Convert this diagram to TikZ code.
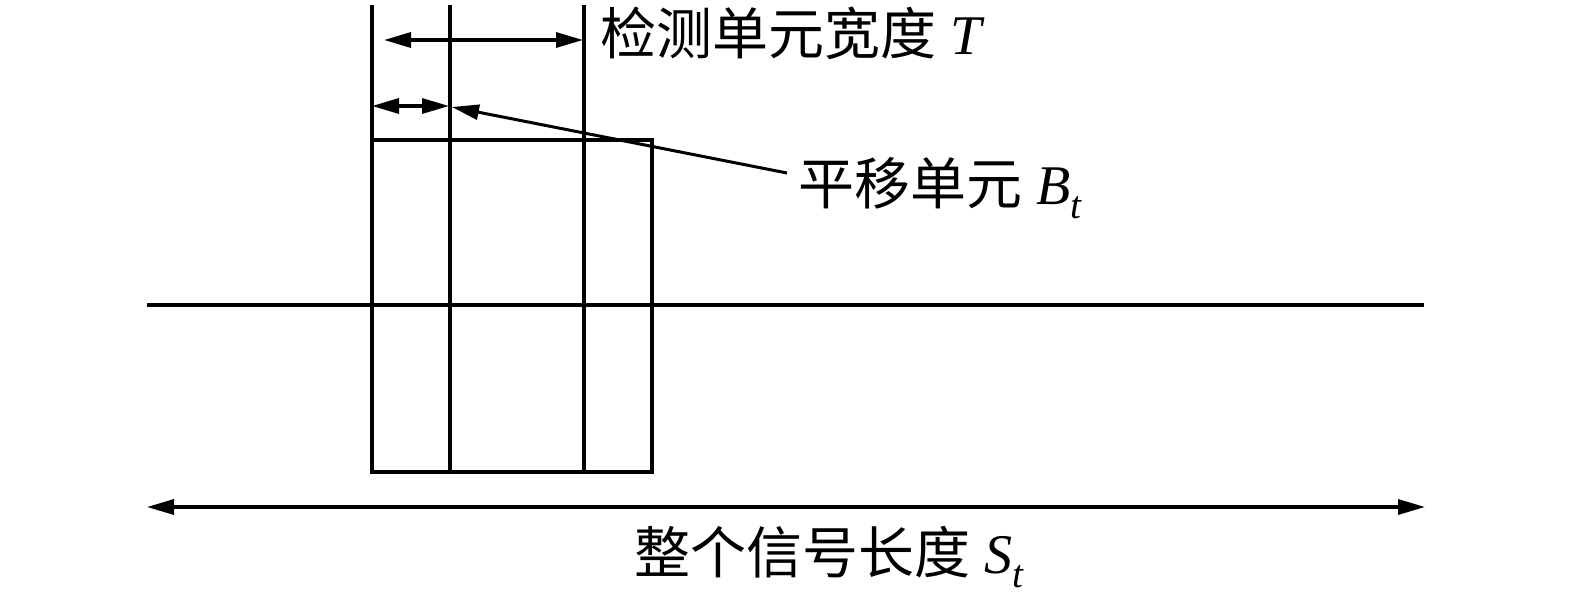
\documentclass[tikz,border=0pt]{standalone}
\usepackage{fontspec}
\setmainfont{Liberation Serif}
\newfontfamily\cjk{Noto Sans CJK SC}
\usetikzlibrary{arrows.meta}
\tikzset{
  ln/.style={line width=3.3pt, line cap=butt, line join=miter},
  dim/.style={line width=3.3pt, {Triangle[length=27pt,width=15pt]}-{Triangle[length=27pt,width=15pt]}},
  lead/.style={line width=3pt, -{Triangle[length=27pt,width=15pt]}},
  lbl/.style={font=\fontsize{56}{62}\selectfont, inner sep=0pt, anchor=west}
}
\begin{document}
\begin{tikzpicture}[x=1pt,y=-1pt]
\useasboundingbox (0,0) rectangle (1575,610);
% coordinates
\coordinate (a1) at (372,5);   \coordinate (a2) at (372,472);
\coordinate (b1) at (450,5);   \coordinate (b2) at (450,472);
\coordinate (c1) at (584,5);   \coordinate (c2) at (584,472);
\coordinate (d1) at (652,140); \coordinate (d2) at (652,472);
\coordinate (e1) at (372,140);
\coordinate (m1) at (147,305); \coordinate (m2) at (1424,305);
% outer box with left line
\draw[ln] (a1) -- (a2) -- (d2) -- (d1) -- (e1);
% inner vertical lines
\draw[ln] (b1) -- (b2);
\draw[ln] (c1) -- (c2);
% middle line
\draw[ln] (m1) -- (m2);
% dimension arrows
\coordinate (t1) at (384,40); \coordinate (t2) at (583,40);
\draw[dim] (t1) -- (t2);
\coordinate (s1) at (372,106); \coordinate (s2) at (449,106);
\draw[dim] (s1) -- (s2);
\coordinate (w1) at (147,507); \coordinate (w2) at (1425,507);
\draw[dim] (w1) -- (w2);
% labels
\node[lbl] (lT) at (600,33) {{\cjk 检测单元宽度} \textit{T}};
\node[lbl] (lB) at (798,188) {{\cjk 平移单元} \textit{B}\textsubscript{\textit{t}}};
\node[lbl] (lS) at (634,557) {{\cjk 整个信号长度} \textit{S}\textsubscript{\textit{t}}};
% leader
\coordinate (le) at (787,173);
\draw[lead] (le) -- (452,107);
\end{tikzpicture}
\end{document}
